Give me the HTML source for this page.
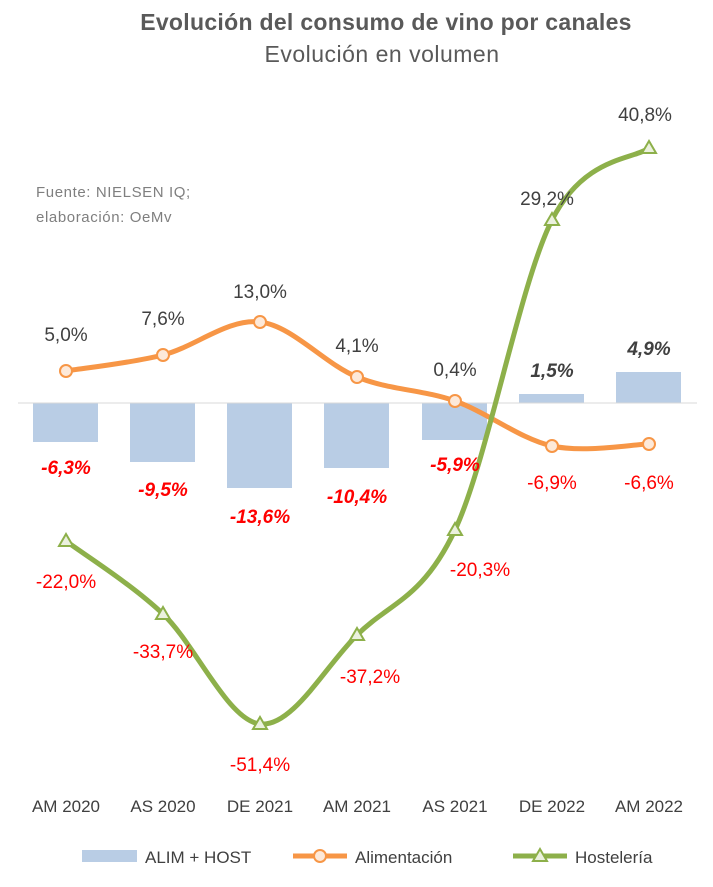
<!DOCTYPE html>
<html><head><meta charset="utf-8"><style>
body{margin:0;background:#fff;}
svg text{font-family:"Liberation Sans",sans-serif;}
</style></head><body>
<svg width="713" height="882" viewBox="0 0 713 882" xmlns="http://www.w3.org/2000/svg">
<rect width="713" height="882" fill="#fff"/>
<text x="386" y="30" text-anchor="middle" font-size="23" font-weight="bold" fill="#595959" letter-spacing="0.3">Evolución del consumo de vino por canales</text>
<text x="382" y="62" text-anchor="middle" font-size="23" fill="#595959" letter-spacing="0.5">Evolución en volumen</text>
<text x="36" y="197" font-size="15" fill="#7f7f7f" letter-spacing="0.6">Fuente: NIELSEN IQ;</text>
<text x="36" y="222" font-size="15" fill="#7f7f7f" letter-spacing="0.6">elaboración: OeMv</text>
<g fill="#b9cde5">
<rect x="33" y="403" width="65" height="39"/>
<rect x="130" y="403" width="65" height="59"/>
<rect x="227" y="403" width="65" height="85"/>
<rect x="324" y="403" width="65" height="65"/>
<rect x="422" y="403" width="65" height="37"/>
<rect x="519" y="394" width="65" height="9"/>
<rect x="616" y="372" width="65" height="31"/>
</g>
<line x1="18" y1="403" x2="697" y2="403" stroke="#d9d9d9" stroke-width="1"/>
<path d="M66,371 C82.2,368.3 130.7,363.2 163,355 C195.3,346.8 227.7,318.3 260,322 C292.3,325.7 324.5,363.8 357,377 C389.5,390.2 422.5,389.5 455,401 C487.5,412.5 519.7,438.8 552,446 C584.3,453.2 632.8,444.3 649,444" fill="none" stroke="#f79646" stroke-width="5" stroke-linecap="round"/>
<path d="M66,541 C82.2,553.2 130.7,583.5 163,614 C195.3,644.5 227.7,720.5 260,724 C292.3,727.5 324.5,667.3 357,635 C389.5,602.7 422.5,599.2 455,530 C487.5,460.8 519.7,283.7 552,220 C584.3,156.3 632.8,160 649,148" fill="none" stroke="#8db04a" stroke-width="5" stroke-linecap="round"/>
<g fill="#fde9d9" stroke="#f79646" stroke-width="2">
<circle cx="66" cy="371" r="6"/><circle cx="163" cy="355" r="6"/><circle cx="260" cy="322" r="6"/><circle cx="357" cy="377" r="6"/><circle cx="455" cy="401" r="6"/><circle cx="552" cy="446" r="6"/><circle cx="649" cy="444" r="6"/>
</g>
<g fill="#ebf1de" stroke="#8db04a" stroke-width="2">
<path d="M66,534 l7,12 h-14z"/><path d="M163,607 l7,12 h-14z"/><path d="M260,717 l7,12 h-14z"/><path d="M357,628 l7,12 h-14z"/><path d="M455,523 l7,12 h-14z"/><path d="M552,213 l7,12 h-14z"/><path d="M649,141 l7,12 h-14z"/>
</g>
<g font-size="19" fill="#404040" text-anchor="middle">
<text x="66" y="341">5,0%</text><text x="163" y="325">7,6%</text><text x="260" y="298">13,0%</text><text x="357" y="352">4,1%</text><text x="455" y="376">0,4%</text><text x="547" y="205">29,2%</text><text x="645" y="121">40,8%</text>
</g>
<g font-size="19" fill="#404040" text-anchor="middle" font-weight="bold" font-style="italic">
<text x="552" y="377">1,5%</text><text x="649" y="355">4,9%</text>
</g>
<g font-size="19" fill="#ff0000" text-anchor="middle" font-weight="bold" font-style="italic">
<text x="66" y="474">-6,3%</text><text x="163" y="496">-9,5%</text><text x="260" y="523">-13,6%</text><text x="357" y="503">-10,4%</text><text x="455" y="471">-5,9%</text>
</g>
<g font-size="19" fill="#ff0000" text-anchor="middle">
<text x="552" y="489">-6,9%</text><text x="649" y="489">-6,6%</text>
<text x="66" y="588">-22,0%</text><text x="163" y="658">-33,7%</text><text x="260" y="771">-51,4%</text><text x="370" y="683">-37,2%</text><text x="480" y="576">-20,3%</text>
</g>
<g font-size="17" fill="#404040" text-anchor="middle">
<text x="66" y="812">AM 2020</text><text x="163" y="812">AS 2020</text><text x="260" y="812">DE 2021</text><text x="357" y="812">AM 2021</text><text x="455" y="812">AS 2021</text><text x="552" y="812">DE 2022</text><text x="649" y="812">AM 2022</text>
</g>
<rect x="82" y="850" width="55" height="12" fill="#b9cde5"/>
<text x="145" y="863" font-size="17" fill="#404040">ALIM + HOST</text>
<line x1="293" y1="856" x2="347" y2="856" stroke="#f79646" stroke-width="5"/>
<circle cx="320" cy="856" r="6" fill="#fde9d9" stroke="#f79646" stroke-width="2"/>
<text x="355" y="863" font-size="17" fill="#404040">Alimentación</text>
<line x1="513" y1="856" x2="567" y2="856" stroke="#8db04a" stroke-width="5"/>
<path d="M540,849 l7,12 h-14z" fill="#ebf1de" stroke="#8db04a" stroke-width="2"/>
<text x="575" y="863" font-size="17" fill="#404040">Hostelería</text>
</svg>
</body></html>
